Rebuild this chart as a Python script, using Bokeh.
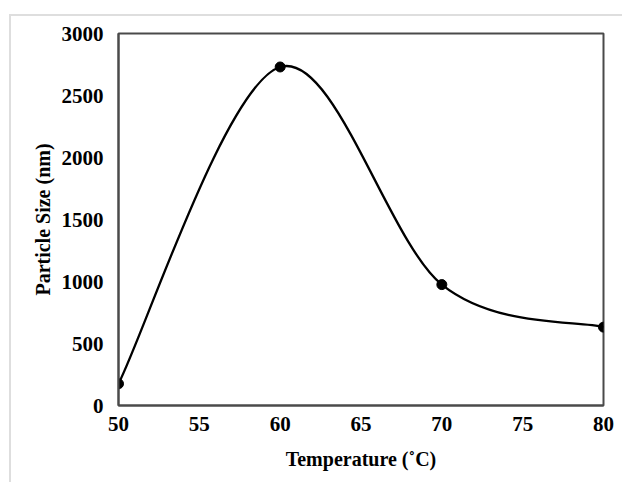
import numpy as np
from bokeh.plotting import figure
from bokeh.models import Range1d, FixedTicker
from bokeh.embed import file_html
from bokeh.resources import INLINE

# Data
temperature = [50, 60, 70, 80]
particle_size = [175, 2730, 975, 632]
x_ticks = [50, 55, 60, 65, 70, 75, 80]
y_ticks = [0, 500, 1000, 1500, 2000, 2500, 3000]

FONT = "Liberation Serif"

p = figure(width=613, height=468, output_backend="svg", toolbar_location=None,
           x_range=Range1d(50, 80), y_range=Range1d(0, 3000),
           min_border_left=107, min_border_right=21, min_border_top=17, min_border_bottom=79)
p.margin = (14, 0, 0, 9)
p.styles = {"border-left": "2px solid #dedede", "border-top": "2px solid #dedede"}

p.xgrid.visible = False
p.ygrid.visible = False
p.outline_line_color = "#4a4a4a"
p.outline_line_width = 2
p.outline_line_alpha = 1.0

# Smoothed curve (Catmull-Rom style bezier, as Excel smoothing)
xs = np.array(temperature, dtype=float)
ys = np.array(particle_size, dtype=float)
xp = np.concatenate([[xs[0]], xs, [xs[-1]]])
yp = np.concatenate([[ys[0]], ys, [ys[-1]]])
n = len(xs)
x0 = xs[:-1]; y0 = ys[:-1]; x1 = xs[1:]; y1 = ys[1:]
cx0 = xs[:-1] + (xp[2:n + 1] - xp[0:n - 1]) / 6.0
cy0 = ys[:-1] + (yp[2:n + 1] - yp[0:n - 1]) / 6.0
cx1 = xs[1:] - (xp[3:n + 2] - xp[1:n]) / 6.0
cy1 = ys[1:] - (yp[3:n + 2] - yp[1:n]) / 6.0
p.bezier(x0=x0, y0=y0, x1=x1, y1=y1, cx0=cx0, cy0=cy0, cx1=cx1, cy1=cy1,
         line_color="black", line_width=2.3)

p.scatter(temperature, particle_size, size=10, color="black")

for ax in (p.xaxis[0], p.yaxis[0]):
    ax.axis_line_color = "#4a4a4a"
    ax.axis_line_width = 2
    ax.major_tick_out = 0
    ax.major_tick_in = 0
    ax.minor_tick_out = 0
    ax.minor_tick_in = 0
    ax.major_label_text_font = FONT
    ax.major_label_text_font_style = "bold"
    ax.major_label_text_font_size = "21px"
    ax.major_label_text_color = "black"
    ax.axis_label_text_font = FONT
    ax.axis_label_text_font_style = "bold"
    ax.axis_label_text_font_size = "20px"
    ax.axis_label_text_color = "black"

p.xaxis.ticker = FixedTicker(ticks=x_ticks)
p.yaxis.ticker = FixedTicker(ticks=y_ticks)
p.xaxis.axis_label = "Temperature (˚C)"
p.yaxis.axis_label = "Particle Size (nm)"
p.xaxis.major_label_standoff = 11
p.yaxis.major_label_standoff = 15
p.xaxis.axis_label_standoff = 14
p.yaxis.axis_label_standoff = 5

open("out.html", "w").write(file_html(p, INLINE))
